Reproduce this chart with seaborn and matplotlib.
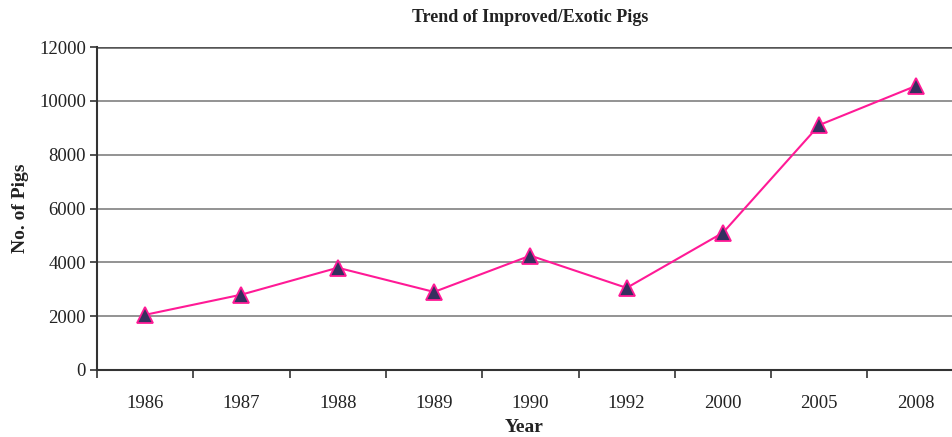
import matplotlib
matplotlib.use("Agg")
import matplotlib.pyplot as plt
import seaborn as sns
import pandas as pd
from matplotlib.ticker import FixedLocator, NullFormatter

years = ["1986", "1987", "1988", "1989", "1990", "1992", "2000", "2005", "2008"]
pigs = [2050, 2800, 3800, 2900, 4250, 3050, 5100, 9100, 10550]
y_ticks = [0, 2000, 4000, 6000, 8000, 10000, 12000]

df = pd.DataFrame({"Year": years, "Pigs": pigs})

sns.set_theme(style="white")
plt.rcParams["font.family"] = ["Liberation Serif", "DejaVu Serif"]

fig = plt.figure(figsize=(9.52, 4.37), dpi=100)
ax = fig.add_axes([97 / 952, (437 - 370) / 437, (952 - 97) / 952, 323 / 437])

sns.lineplot(data=df, x="Year", y="Pigs", sort=False, ax=ax,
             color="#ff1a96", linewidth=1.5,
             marker="^", markersize=11, markerfacecolor="#35305f",
             markeredgecolor="#ff1a96", markeredgewidth=1.3, zorder=3)

step = 96.3
ax.set_xlim(-0.5, -0.5 + 855 / step)
ax.set_ylim(0, 12000)

# category labels at centres, tick marks at category boundaries
ax.set_xticks(range(len(years)))
ax.set_xticklabels(years)
ax.tick_params(axis="x", which="major", length=0, pad=18, labelsize=13.5, colors="#222222")
ax.xaxis.set_minor_locator(FixedLocator([i - 0.5 for i in range(len(years) + 1)]))
ax.xaxis.set_minor_formatter(NullFormatter())
ax.tick_params(axis="x", which="minor", length=6, width=1.2, direction="out",
               color="#333333", bottom=True)

ax.set_yticks(y_ticks)
ax.set_yticklabels([str(v) for v in y_ticks])
ax.tick_params(axis="y", length=5, width=1.2, direction="out", color="#333333",
               labelsize=13.5, pad=3, left=True, colors="#222222")

for v in y_ticks[1:]:
    ax.axhline(v, color="#8a8a8a" if v < 12000 else "#555555",
               linewidth=1.3 if v < 12000 else 1.8, zorder=1)

for side in ["top", "right"]:
    ax.spines[side].set_visible(False)
for side in ["left", "bottom"]:
    ax.spines[side].set_color("#333333")
    ax.spines[side].set_linewidth(1.5)

ax.set_xlabel("Year", fontsize=14, fontweight="bold", labelpad=5, color="#222222")
ax.set_ylabel("No. of Pigs", fontsize=14, fontweight="bold", labelpad=7, color="#222222")
fig.text(530 / 952, 1 - 17 / 437, "Trend of Improved/Exotic Pigs", ha="center", va="center",
         fontsize=13, fontweight="bold", color="#222222")

fig.savefig("out.png", dpi=100)
